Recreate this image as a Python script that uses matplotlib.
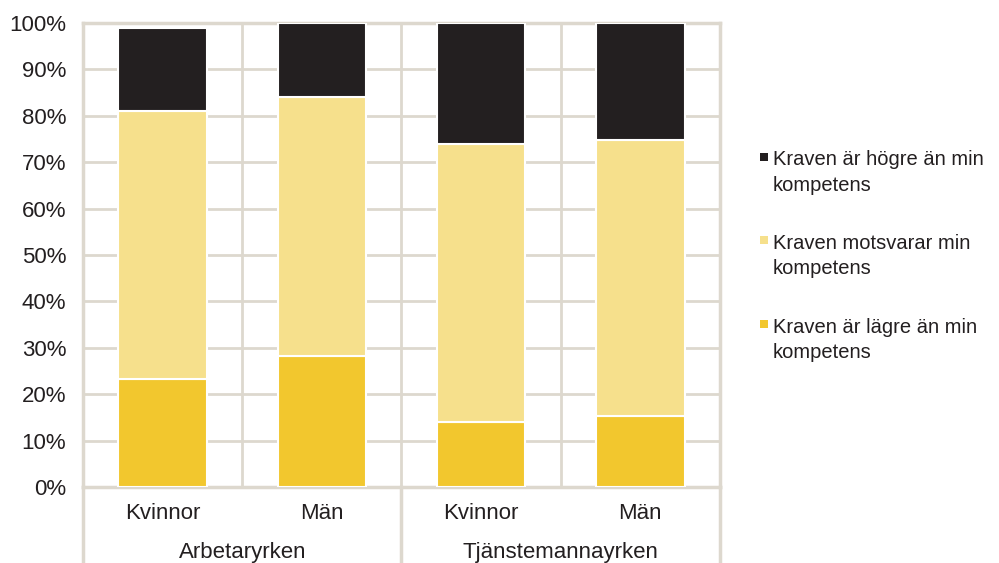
import numpy as np
import matplotlib
matplotlib.use("Agg")
import matplotlib.pyplot as plt
from matplotlib.patches import Rectangle

plt.rcParams.update({"font.family": ["Liberation Sans", "DejaVu Sans"], "font.size": 16})

# data (percent)
bars = ["Kvinnor", "Män", "Kvinnor", "Män"]
groups = ["Arbetaryrken", "Tjänstemannayrken"]
lower = [23.2, 28.2, 14.0, 15.3]     # Kraven är lägre än min kompetens
match = [57.8, 55.9, 60.0, 59.6]     # Kraven motsvarar min kompetens
higher = [17.9, 16.0, 26.0, 25.1]    # Kraven är högre än min kompetens
series = ["Kraven är högre än min\nkompetens",
          "Kraven motsvarar min\nkompetens",
          "Kraven är lägre än min\nkompetens"]
colors = ["#231f20", "#f6e08c", "#f2c72e"]

GRID = "#ddd8ce"
TXT = "#231f20"

fig = plt.figure(figsize=(9.99, 5.63), dpi=100)
ax = fig.add_axes([0.0831, 0.135, 0.6376, 0.824])

x = np.arange(len(bars)) + 0.5
lo = np.array(lower); mi = np.array(match); hi = np.array(higher)
w = 0.555
ax.bar(x, lo, w, color=colors[2], edgecolor="white", lw=1.5, zorder=3)
ax.bar(x, mi, w, bottom=lo, color=colors[1], edgecolor="white", lw=1.5, zorder=3)
ax.bar(x, hi, w, bottom=lo + mi, color=colors[0], edgecolor="white", lw=1.5, zorder=3)

ax.set_xlim(0, 4)
ax.set_ylim(0, 100)
ax.set_yticks(np.arange(0, 101, 10))
ax.set_yticklabels([f"{v}%" for v in range(0, 101, 10)], color=TXT)
ax.set_xticks([1, 2, 3], minor=False)
ax.set_xticklabels([])
ax.tick_params(length=0, axis="both")
ax.tick_params(axis="y", pad=12)
ax.grid(True, color=GRID, lw=2, zorder=0)
for s in ax.spines.values():
    s.set_color(GRID)
    s.set_linewidth(2.5)

# category labels below the axis
for xi, lab in zip(x, bars):
    ax.text(xi, -0.057, lab, transform=ax.get_xaxis_transform(), ha="center", va="center", color=TXT)
for gi, g in enumerate(groups):
    ax.text(1 + 2 * gi, -0.142, g, transform=ax.get_xaxis_transform(), ha="center", va="center", color=TXT)
for xs in [0, 2, 4]:
    ax.plot([xs, xs], [0, -0.17], transform=ax.get_xaxis_transform(), color=GRID, lw=2.5, clip_on=False)

# legend drawn manually
ys = [0.716, 0.568, 0.419]
for lab, c, yy in zip(series, colors, ys):
    fig.patches.append(Rectangle((0.7605, yy - 0.002), 0.008, 0.0142, transform=fig.transFigure,
                                 facecolor=c, edgecolor="none"))
    fig.text(0.7735, yy + 0.017, lab, ha="left", va="top", color=TXT, fontsize=14.5, linespacing=1.45)

fig.savefig("out.png", dpi=100)
